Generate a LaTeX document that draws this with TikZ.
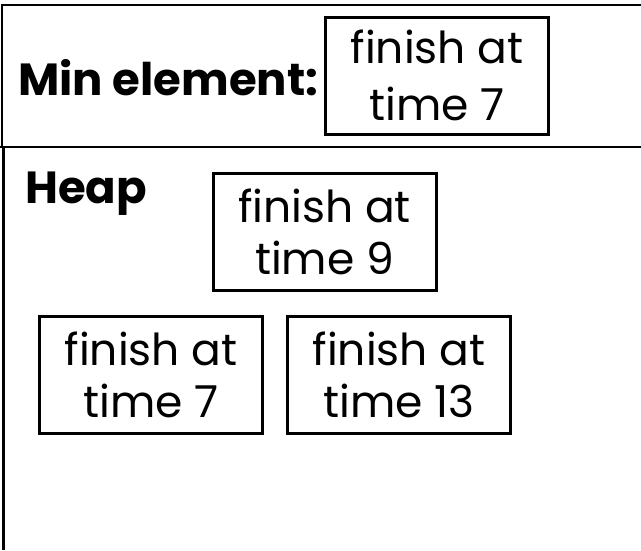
\documentclass[tikz,border=0pt]{standalone}
\usepackage{fontspec}
\setmainfont{Poppins}
\begin{document}
\begin{tikzpicture}[x=1pt,y=-1pt,
  itembox/.style={draw,line width=3pt,inner sep=0pt,align=center,
    minimum width=223pt,minimum height=117pt,
    font=\fontsize{44}{52}\selectfont},
  headlabel/.style={inner sep=0pt,anchor=base west,font=\bfseries\fontsize{45}{52}\selectfont}]
\useasboundingbox (0,0) rectangle (641,550);
% frames
\draw[line width=2pt] (1.5,147) -- (1.5,5) -- (641,5);
\draw[line width=2.5pt] (0,147) -- (641,147);
\draw[line width=3pt] (3,147) -- (3,550);
% labels
\node[headlabel] (minlbl) at (18,95) {Min element:};
\node[headlabel] (heaplbl) at (25,203) {Heap};
% boxes
\node[itembox,font=\fontsize{44}{57}\selectfont] (minbox) at (437,75.5) {finish at\\time 7};
\node[itembox] (b9) at (324.5,231.5) {finish at\\time 9};
\node[itembox] (b7) at (151,374.5) {finish at\\time 7};
\node[itembox] (b13) at (399,374.5) {finish at\\time 13};
\end{tikzpicture}
\end{document}
